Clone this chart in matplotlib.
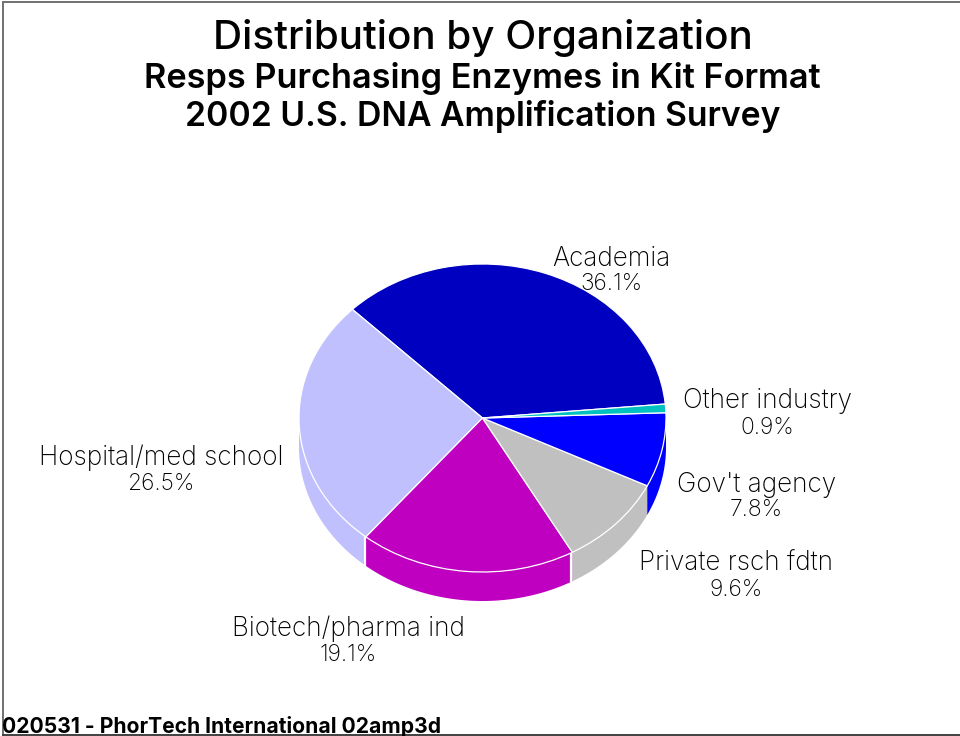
import matplotlib
matplotlib.use("Agg")
import matplotlib.pyplot as plt
import numpy as np
from matplotlib.patches import Wedge, Polygon
from matplotlib.transforms import Affine2D

# Survey shares, counter-clockwise from the first slice
categories = ["Academia", "Hospital/med school", "Biotech/pharma ind",
              "Private rsch fdtn", "Gov't agency", "Other industry"]
shares = [36.1, 26.5, 19.1, 9.6, 7.8, 0.9]
colors = ["#0000C0", "#C0C0FF", "#C000C0", "#C0C0C0", "#0000FF", "#00C0C0"]
label_xy = [(611, 265.5), (161, 465), (348, 636), (736, 570.5), (756.5, 491.5), (767.5, 408.5)]

CX, CY, RX, RY, DEPTH = 482.5, 418.0, 183.5, 154.0, 29.0
START_ANGLE = 5.2

fig = plt.figure(figsize=(9.6, 7.36), dpi=100)
ax = fig.add_axes([0, 0, 1, 1])
ax.set_xlim(0, 960)
ax.set_ylim(736, 0)
ax.axis("off")

# Page frame: grey left and top rules, darker bottom rule
ax.plot([3, 3, 960], [736, 1.5, 1.5], color="#707070", lw=1.4, solid_joinstyle="miter")
ax.plot([3, 960], [735, 735], color="#404040", lw=1.4)

# The unit circle, y up, mapped into the pixel-like data axes
to_pie = Affine2D().scale(RX, -RY).translate(CX, CY)

angles = START_ANGLE + np.concatenate([[0], np.cumsum(shares)]) * 3.6
for i, color in enumerate(colors):
    a0, a1 = angles[i], angles[i + 1]
    # Side wall: only the arc on the front half of the rim shows
    lo, hi = max(a0, 180), min(a1, 360)
    if lo < hi:
        t = np.radians(np.linspace(lo, hi, 120))
        x = CX + RX * np.cos(t)
        y = CY - RY * np.sin(t)
        pts = np.column_stack([np.r_[x, x[::-1]], np.r_[y, y[::-1] + DEPTH]])
        ax.add_patch(Polygon(pts, closed=True, fc=color, ec="none", zorder=1))

# White seams on the wall between the front slices
for edge in angles[2:4]:
    ex = CX + RX * np.cos(np.radians(edge)) - 1
    ey = CY - RY * np.sin(np.radians(edge))
    ax.plot([ex, ex], [ey, ey + DEPTH], color="white", lw=1.6, zorder=2)

for i, color in enumerate(colors):
    ax.add_patch(Wedge((0, 0), 1, angles[i], angles[i + 1], fc=color, ec="white", lw=0.9,
                       transform=to_pie + ax.transData, zorder=3))


def fitted_text(x, y, text, width, ha="center", **style):
    """Place text on its baseline, sized so that it spans the given pixel width."""
    artist = ax.text(x, y, text, ha=ha, va="baseline", fontsize=20, **style)
    measured = artist.get_window_extent(fig.canvas.get_renderer()).width
    artist.set_fontsize(20 * width / measured)
    return artist


# Slice labels
label_font = dict(family="Inter", fontweight=200, color="black", ha="center", va="baseline")
for name, share, (lx, ly) in zip(categories, shares, label_xy):
    ax.text(lx, ly, name, fontsize=18.8, **label_font)
    ax.text(lx, ly + 25, f"{share:.1f}%", fontsize=16.5, **label_font)

# Headings
fitted_text(482.5, 49, "Distribution by Organization", 539, family="Inter", fontweight=500,
            color="black")
fitted_text(482.5, 88, "Resps Purchasing Enzymes in Kit Format", 677, family="Inter",
            fontweight=600, color="black")
fitted_text(482.5, 126, "2002 U.S. DNA Amplification Survey", 596, family="Inter",
            fontweight=600, color="black")

# Footer
fitted_text(2, 733, "020531 - PhorTech International 02amp3d", 438, ha="left", family="Inter",
            fontweight=700, color="black")

fig.savefig("out.png", dpi=100)
